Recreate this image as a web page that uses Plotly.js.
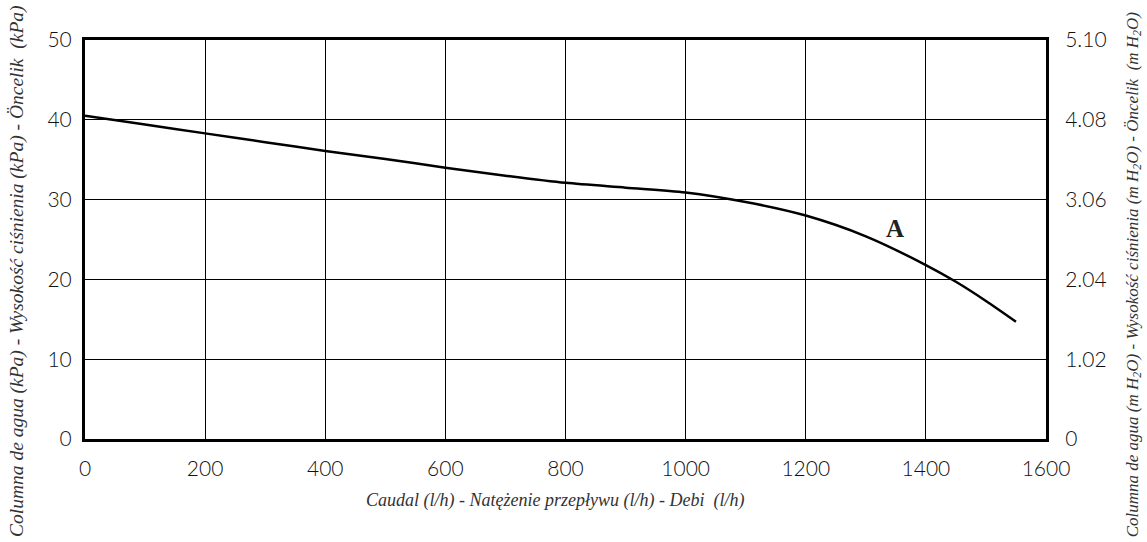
<!DOCTYPE html>
<html>
<head>
<meta charset="utf-8">
<script src="https://cdn.plot.ly/plotly-3.0.1.min.js"></script>
<style>html,body{margin:0;padding:0;background:#fff;}#chart{width:1147px;height:542px;}</style>
</head>
<body>
<div id="chart"></div>
<script>
// Flow (l/h) and head (kPa)
const flow = [0, 100, 200, 300, 400, 500, 600, 700, 800, 900, 1000, 1100, 1200, 1300, 1400, 1450, 1500, 1550];
const head = [40.5, 39.4, 38.3, 37.2, 36.1, 35.1, 34.0, 33.0, 32.1, 31.5, 30.9, 29.7, 28.0, 25.4, 21.8, 19.7, 17.3, 14.7];

const xTicks = [0, 200, 400, 600, 800, 1000, 1200, 1400, 1600];
const yTicks = [0, 10, 20, 30, 40, 50];
const y2Ticks = [0, 1.02, 2.04, 3.06, 4.08, 5.10];
const y2Labels = ["0", "1.02", "2.04", "3.06", "4.08", "5.10"];

const curveLabel = {text: "A", x: 1349, y: 26.4};

const xTitle = "Caudal (l/h) - Natężenie przepływu (l/h) - Debi  (l/h)";
const yTitle = "Columna de agua (kPa) - Wysokość ciśnienia (kPa) - Öncelik  (kPa)";
const y2Title = "Columna de agua (m H<sub>2</sub>O) - Wysokość ciśnienia (m H<sub>2</sub>O) - Öncelik  (m H<sub>2</sub>O)";

const tickFont = {family: "Lato", size: 21, color: "#111", weight: 300};
const serif = "Liberation Serif";

const traces = [{
  x: flow, y: head, type: "scatter", mode: "lines",
  line: {color: "#000", width: 2.5, shape: "spline", smoothing: 0.8},
  hoverinfo: "skip", showlegend: false
}, {
  // anchor trace so the right-hand mH2O axis is drawn
  x: [xTicks[0]], y: [y2Ticks[0]], yaxis: "y2", type: "scatter", mode: "markers",
  marker: {opacity: 0}, hoverinfo: "skip", showlegend: false
}];

const layout = {
  width: 1147, height: 542,
  margin: {l: 85, r: 101, t: 40, b: 103},
  paper_bgcolor: "#fff", plot_bgcolor: "#fff",
  showlegend: false,
  xaxis: {
    range: [0, 1600], tickvals: xTicks, ticktext: xTicks.map(String),
    showgrid: true, gridcolor: "#000", gridwidth: 1.2,
    zeroline: false, showline: true, linecolor: "#000", linewidth: 3, mirror: true,
    ticks: "outside", ticklen: 9, tickcolor: "rgba(0,0,0,0)",
    tickfont: tickFont
  },
  yaxis: {
    range: [0, 50], tickvals: yTicks, ticktext: yTicks.map(String),
    showgrid: true, gridcolor: "#000", gridwidth: 1.2,
    zeroline: false, showline: true, linecolor: "#000", linewidth: 3, mirror: true,
    ticks: "outside", ticklen: 6, tickcolor: "rgba(0,0,0,0)",
    tickfont: tickFont
  },
  yaxis2: {
    overlaying: "y", side: "right", range: [0, 5.1],
    tickvals: y2Ticks, ticktext: y2Labels,
    showgrid: false, zeroline: false, showline: false,
    ticks: "outside", ticklen: 14, tickcolor: "rgba(0,0,0,0)",
    tickfont: tickFont
  },
  annotations: [
    {text: curveLabel.text, x: curveLabel.x, y: curveLabel.y, xref: "x", yref: "y",
     showarrow: false, font: {family: serif, size: 25, color: "#222", weight: 700}},
    {text: xTitle, xref: "paper", yref: "paper", x: 0.489, y: -0.153,
     xanchor: "center", yanchor: "middle", showarrow: false,
     font: {family: serif, size: 18, color: "#333", style: "italic"}},
    {text: yTitle, xref: "paper", yref: "paper", x: -0.0708, y: 0.421, textangle: -90,
     xanchor: "center", yanchor: "middle", showarrow: false,
     font: {family: serif, size: 19.5, color: "#333", style: "italic"}},
    {text: y2Title, xref: "paper", yref: "paper", x: 1.091, y: 0.414, textangle: -90,
     xanchor: "center", yanchor: "middle", showarrow: false,
     font: {family: serif, size: 17, color: "#333", style: "italic"}}
  ]
};

Plotly.newPlot("chart", traces, layout, {displayModeBar: false, staticPlot: true});
</script>
</body>
</html>
